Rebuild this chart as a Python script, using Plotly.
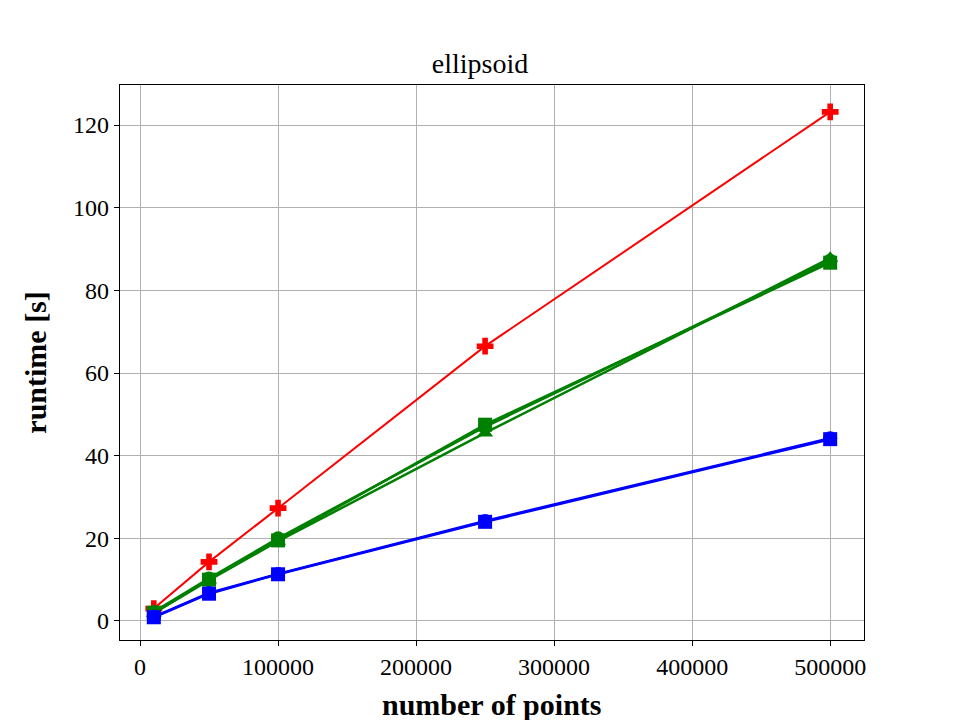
import plotly.graph_objects as go

n_points = [10000, 50000, 100000, 250000, 500000]

red_plus = [3.0, 14.3, 27.3, 66.5, 123.2]
green_circle = [2.2, 10.3, 20.0, 47.0, 87.2]
green_square = [2.0, 10.0, 19.5, 47.5, 86.7]
green_triangle = [1.9, 9.9, 19.3, 45.5, 87.8]
blue_circle = [1.0, 6.8, 11.4, 24.2, 44.2]
blue_square = [0.9, 6.6, 11.3, 24.0, 44.0]

series = [
    ("red plus", red_plus, "red", "cross", 2),
    ("green circle", green_circle, "green", "circle", 2.5),
    ("green square", green_square, "green", "square", 2.5),
    ("green triangle", green_triangle, "green", "triangle-up", 2.5),
    ("blue circle", blue_circle, "blue", "circle", 2.5),
    ("blue square", blue_square, "blue", "square", 2.5),
]

fig = go.Figure()
for name, ys, color, sym, w in series:
    fig.add_trace(go.Scatter(
        x=n_points, y=ys, mode="lines+markers", name=name,
        line=dict(color=color, width=w),
        marker=dict(symbol=sym, size=14, color=color, line=dict(width=0)),
        showlegend=False,
    ))

font_family = "Liberation Serif, DejaVu Serif, serif"
axis_common = dict(
    showgrid=True, gridcolor="#b0b0b0", gridwidth=1,
    showline=True, linecolor="black", linewidth=1.3, mirror=True,
    ticks="outside", ticklen=5, tickwidth=1.2, tickcolor="black",
    zeroline=False, automargin=False,
    tickfont=dict(family=font_family, size=24, color="black"),
)

fig.update_layout(
    width=960, height=720,
    paper_bgcolor="white", plot_bgcolor="white",
    margin=dict(l=120, r=96, t=85, b=80),
    title=dict(text="ellipsoid", x=0.5, xanchor="center", y=0.912, yanchor="middle",
               font=dict(family=font_family, size=28, color="black")),
    xaxis=dict(**axis_common, range=[-14500, 524500],
               tickvals=[0, 100000, 200000, 300000, 400000, 500000],
               ticktext=["0", "100000", "200000", "300000", "400000", "500000"]),
    yaxis=dict(**axis_common, range=[-4.6, 129.7],
               tickvals=[0, 20, 40, 60, 80, 100, 120]),
    annotations=[
        dict(text="<b>number of points</b>", xref="paper", yref="paper",
             x=0.5, y=-0.117, xanchor="center", yanchor="middle", showarrow=False,
             font=dict(family=font_family, size=30, color="black")),
        dict(text="<b>runtime [s]</b>", xref="paper", yref="paper",
             x=-0.114, y=0.5, xanchor="center", yanchor="middle", showarrow=False,
             textangle=-90,
             font=dict(family=font_family, size=30, color="black")),
    ],
)

fig.write_html("out.html")
